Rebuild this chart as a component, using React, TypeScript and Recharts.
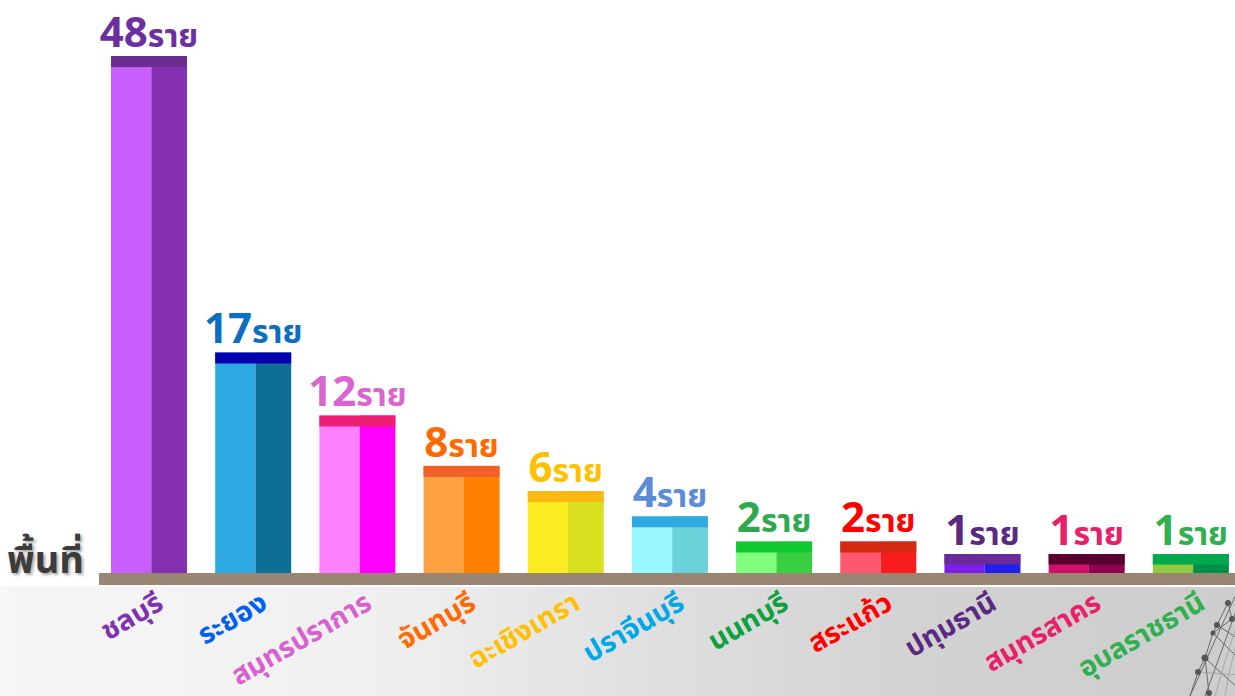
import React from 'react';
import { BarChart, Bar, XAxis, YAxis, LabelList } from 'recharts';

// ---- data ----
const provinces = ['ชลบุรี', 'ระยอง', 'สมุทรปราการ', 'จันทบุรี', 'ฉะเชิงเทรา', 'ปราจีนบุรี', 'นนทบุรี', 'สระแก้ว', 'ปทุมธานี', 'สมุทรสาคร', 'อุบลราชธานี'];
const cases = [48, 17, 12, 8, 6, 4, 2, 2, 1, 1, 1];
const unitLabel = 'ราย';
const axisTitle = 'พื้นที่';

// ---- styles ----
const lightColors = ['#c85efd', '#2eaae2', '#ff80ff', '#ffa040', '#fcec22', '#98f8fe', '#80ff80', '#ff5870', '#7a20e8', '#d0106a', '#90c840'];
const darkColors = ['#8530b0', '#0f6e96', '#ff00ff', '#ff8000', '#d8e020', '#6ad2da', '#38d040', '#f81c1c', '#2020f0', '#900050', '#00904a'];
const capColors = ['#6a2d8f', '#0000b0', '#ee1e74', '#f06028', '#fbb810', '#30a8e0', '#10c830', '#d42a14', '#6a2a9a', '#580030', '#00a850'];
const valueColors = ['#6b2fa0', '#0a6fc0', '#d865d0', '#ff6a00', '#ffc000', '#5a8cd8', '#30a850', '#ff0000', '#5a2a80', '#e8206a', '#30b050'];
const tickColors = ['#8030b0', '#0060f0', '#d860d0', '#ff6a00', '#ffc000', '#00a8e8', '#10a040', '#ff0000', '#5a2a80', '#e8206a', '#30b050'];

const FONT = "'Noto Sans Thai', 'Noto Sans Thai Looped', 'Tlwg Typo', 'Loma', 'Garuda', 'Kinnari', 'Noto Sans', sans-serif";

const data = provinces.map((p, i) => ({ province: p, cases: cases[i] }));

// broken value axis: values above the break are drawn compressed (as in the original artwork)
const BREAK = 20;
const axisBreak = (v: number) => (v <= BREAK ? v + 0.5 : BREAK + 0.5 + (v - BREAK) * 0.733);

const BarShape = (props: any) => {
  const { x, y, width, height, index } = props;
  if (height <= 0) return null;
  const cap = Math.min(11, height * 0.55);
  const split = width * 0.53;
  return (
    <g>
      <rect x={x} y={y} width={split} height={height} fill={lightColors[index]} />
      <rect x={x + split} y={y} width={width - split} height={height} fill={darkColors[index]} />
      <rect x={x} y={y} width={width} height={cap} fill={capColors[index]} />
    </g>
  );
};

const ValueLabel = (props: any) => {
  const { x, y, width, value, index } = props;
  return (
    <text
      x={x + width / 2}
      y={y - 9}
      textAnchor="middle"
      fill={valueColors[index]}
      fontFamily={FONT}
      fontWeight={700}
    >
      <tspan fontSize={42}>{value}</tspan>
      <tspan fontSize={32}>{unitLabel}</tspan>
    </text>
  );
};

const ProvinceTick = (props: any) => {
  const { x, y, payload, index } = props;
  const tx = x + 16;
  const ty = y + 35;
  return (
    <text
      x={tx}
      y={ty}
      textAnchor="end"
      fill={tickColors[index]}
      fontFamily={FONT}
      fontWeight={700}
      fontSize={28}
      transform={`rotate(-30, ${tx}, ${ty})`}
    >
      {payload.value}
    </text>
  );
};

export default function App() {
  return (
    <div style={{ position: 'absolute', left: 0, top: 0, width: 1235, height: 696, overflow: 'hidden', background: '#ffffff' }}>
      {/* lower grey floor */}
      <div
        style={{
          position: 'absolute', left: 0, top: 586, width: 1235, height: 110,
          background: 'linear-gradient(to right, #f6f6f6 0%, #f0f0f0 30%, #dedede 55%, #d2d2d2 75%, #cdcdcd 100%)',
        }}
      />
      <div style={{ position: 'absolute', left: 0, top: 585, width: 1235, height: 2, background: '#fbfbfb' }} />
      {/* baseline shelf */}
      <div style={{ position: 'absolute', left: 99, top: 573, width: 1136, height: 12, background: '#9a8572' }} />
      {/* axis title */}
      <div
        style={{
          position: 'absolute', left: 7, top: 537, fontFamily: FONT, fontWeight: 700, fontSize: 38,
          color: '#3c3c3c', textShadow: '2px 2px 3px rgba(0,0,0,0.35)', lineHeight: '50px',
        }}
      >
        {axisTitle}
      </div>
      {/* decorative network */}
      <svg width={1235} height={696} style={{ position: 'absolute', left: 0, top: 0 }}>
        <g stroke="#6a6a6a" strokeWidth={1} fill="none">
          <path d="M1238 590 Q1215 640 1190 696" />
          <path d="M1240 600 Q1222 650 1205 696" />
          <path d="M1228 603 L1217 625 L1213 633 L1205 658 L1198 672 L1190 696" />
          <path d="M1228 603 L1232 619 L1213 633" />
          <path d="M1205 658 L1209 693" />
          <path d="M1217 625 L1240 640" />
          <path d="M1213 633 L1240 660" />
          <path d="M1205 658 L1240 690" />
        </g>
        <g stroke="#9a9a9a" strokeWidth={0.7} fill="none">
          <path d="M1240 615 Q1225 660 1215 696" />
          <path d="M1240 630 Q1230 665 1225 696" />
          <path d="M1198 672 L1240 675" />
        </g>
        <g fill="#555555">
          <circle cx={1228} cy={603} r={3} />
          <circle cx={1232} cy={619} r={3} />
          <circle cx={1217} cy={625} r={3} />
          <circle cx={1213} cy={633} r={2.5} />
          <circle cx={1205} cy={658} r={3.5} />
          <circle cx={1198} cy={672} r={3} />
          <circle cx={1209} cy={693} r={3} />
        </g>
      </svg>
      <div style={{ position: 'absolute', left: 0, top: 0 }}>
        <BarChart
          width={1245}
          height={696}
          data={data}
          margin={{ top: 56, right: 2, bottom: 23, left: 97 }}
          barCategoryGap={0}
        >
          <XAxis
            dataKey="province"
            interval={0}
            axisLine={false}
            tickLine={false}
            tickSize={0}
            tickMargin={0}
            height={100}
            tick={<ProvinceTick />}
          />
          <YAxis hide type="number" domain={[0, 41.03]} allowDataOverflow />
          <Bar
            dataKey={(d: any) => axisBreak(d.cases)}
            barSize={76}
            shape={<BarShape />}
            isAnimationActive={false}
          >
            <LabelList dataKey="cases" content={<ValueLabel />} />
          </Bar>
        </BarChart>
      </div>
    </div>
  );
}
